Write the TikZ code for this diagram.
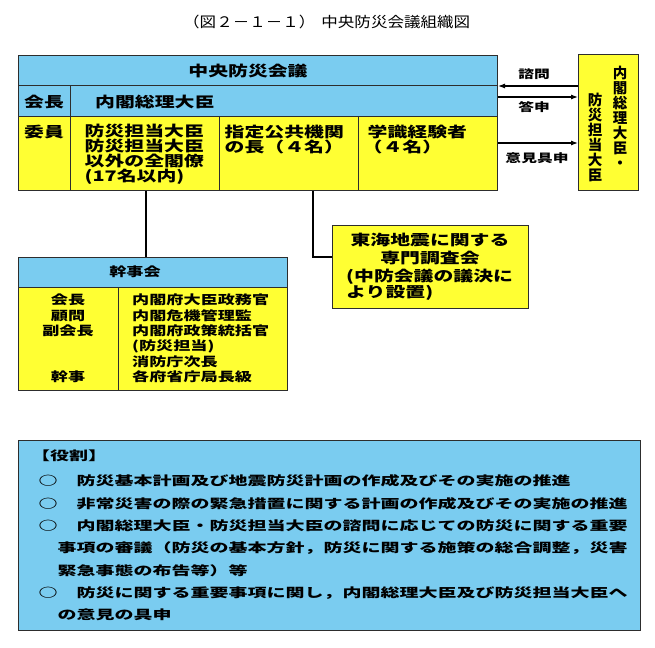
\documentclass[tikz,border=0pt]{standalone}
\usepackage{fontspec}
\usetikzlibrary{arrows.meta}
\newfontfamily\jpS[FakeStretch=1.37]{Noto Sans CJK JP}
\newfontfamily\jpW[FakeStretch=1.52]{Noto Sans CJK JP}
\newfontfamily\jpT[FakeStretch=1.14]{Noto Sans CJK JP}
\newfontfamily\jpV{Noto Sans CJK JP}
\definecolor{skyC}{RGB}{122,204,240}
\definecolor{yelC}{RGB}{255,255,51}
\definecolor{lineC}{RGB}{45,45,45}
\begin{document}
\begin{tikzpicture}[x=1pt,y=-1pt,
  box/.style={draw=lineC, line width=1pt, inner sep=0pt, anchor=north west},
  grid/.style={draw=lineC, line width=1pt},
  txt/.style={inner sep=0pt, font=\jpS\bfseries\fontsize{14.5}{15}\selectfont, align=left},
  txtB/.style={inner sep=0pt, font=\jpS\bfseries\fontsize{12.5}{15.3}\selectfont, align=left},
  txtC/.style={inner sep=0pt, font=\jpW\bfseries\fontsize{12.5}{22.33}\selectfont, align=left},
  lab/.style={inner sep=0pt, font=\jpS\bfseries\fontsize{11.5}{13}\selectfont},
  vt/.style={inner sep=0pt, font=\jpV\bfseries\fontsize{14.5}{15}\selectfont, align=center},
  conn/.style={draw=black, line width=1.2pt},
  arr/.style={draw=black, line width=1.1pt, -{Latex[length=7pt,width=5pt]}}
]
\useasboundingbox (0,0) rectangle (655,647);

% title
\node[inner sep=0pt, anchor=west, font=\jpT\fontsize{14.5}{15}\selectfont] (title) at (183,22) {（図２－１－１）\hspace{6pt}中央防災会議組織図};

% central council box
\fill[yelC] (18,117) rectangle (497,190);
\fill[skyC] (18,55) rectangle (497,117);
\node[box, minimum width=479pt, minimum height=135pt] (council) at (18,55) {};
\draw[grid] (18,86) -- (497,86);
\draw[grid] (18,117) -- (497,117);
\draw[grid] (70,86) -- (70,190);
\draw[grid] (219,117) -- (219,190);
\draw[grid] (358,117) -- (358,190);

\node[txt, anchor=center] (cname) at (248,71) {中央防災会議};
\node[txt, anchor=center] (kaicho) at (44,102) {会長};
\node[txt, anchor=west] (sori) at (95,102) {内閣総理大臣};
\node[txt, anchor=center] (iin) at (44,132) {委員};
\node[txt, anchor=west] (col1) at (84.5,154.5) {防災担当大臣\\防災担当大臣\\以外の全閣僚\\(17名以内)};
\node[txt, anchor=west] (col2) at (224.5,139.5) {指定公共機関\\の長（４名）};
\node[txt, anchor=west] (col3) at (367.5,139.5) {学識経験者\\\hspace*{-5pt}（４名）};

% prime minister box
\node[box, fill=yelC, minimum width=60pt, minimum height=136pt] (pm) at (578,54) {};
\node[vt] (pmA) at (620,117) {内\\閣\\総\\理\\大\\臣\\・};
\node[vt] (pmB) at (595,137) {防\\災\\担\\当\\大\\臣};

% arrows
\draw[arr] (pm.west |- 0,86) -- (council.east |- 0,86);
\draw[arr] (council.east |- 0,97) -- (pm.west |- 0,97);
\draw[arr] (council.east |- 0,143) -- (pm.west |- 0,143);
\node[lab] (l1) at (534,74) {諮問};
\node[lab] (l2) at (534,107) {答申};
\node[lab] (l3) at (537,158) {意見具申};

% kanjikai box
\fill[skyC] (18,257) rectangle (287,287);
\fill[yelC] (18,287) rectangle (287,390);
\node[box, minimum width=269pt, minimum height=133pt] (kanji) at (18,257) {};
\draw[grid] (18,287) -- (287,287);
\draw[grid] (118,287) -- (118,390);
\node[txtB, anchor=center] (kh) at (135,272) {幹事会};
\node[txtB, align=center, anchor=center] (kl) at (68,315.5) {会長\\顧問\\副会長};
\node[txtB, anchor=center] (kl2) at (68,377) {幹事};
\node[txtB, anchor=west] (kr) at (132,338.5) {内閣府大臣政務官\\内閣危機管理監\\内閣府政策統括官\\(防災担当)\\消防庁次長\\各府省庁局長級};

% tokai box
\node[box, fill=yelC, minimum width=196pt, minimum height=83pt] (tokai) at (332,225) {};
\node[inner sep=0pt, font=\jpS\bfseries\fontsize{14.5}{18}\selectfont, align=center] (tk1) at (430,249) {東海地震に関する\\専門調査会};
\node[inner sep=0pt, font=\jpS\bfseries\fontsize{14.5}{14.5}\selectfont, align=left, anchor=west] (tk2) at (346,285) {(中防会議の議決に\\より設置)};

% connectors
\coordinate (k1) at (146,0);
\draw[conn] (council.south -| k1) -- (kanji.north -| k1);
\coordinate (k2) at (313,257);
\draw[conn] (council.south -| k2) |- (tokai.west |- k2);

% role box
\node[box, fill=skyC, minimum width=622pt, minimum height=190pt] (role) at (18,440) {};
\node[txtC, anchor=west] (rt) at (31,456) {【役割】};
\node[txtC, anchor=west] (rl) at (38.5,548) {○　防災基本計画及び地震防災計画の作成及びその実施の推進\\○　非常災害の際の緊急措置に関する計画の作成及びその実施の推進\\○　内閣総理大臣・防災担当大臣の諮問に応じての防災に関する重要\\　事項の審議（防災の基本方針，防災に関する施策の総合調整，災害\\　緊急事態の布告等）等\\○　防災に関する重要事項に関し，内閣総理大臣及び防災担当大臣へ\\　の意見の具申};
\end{tikzpicture}
\end{document}
